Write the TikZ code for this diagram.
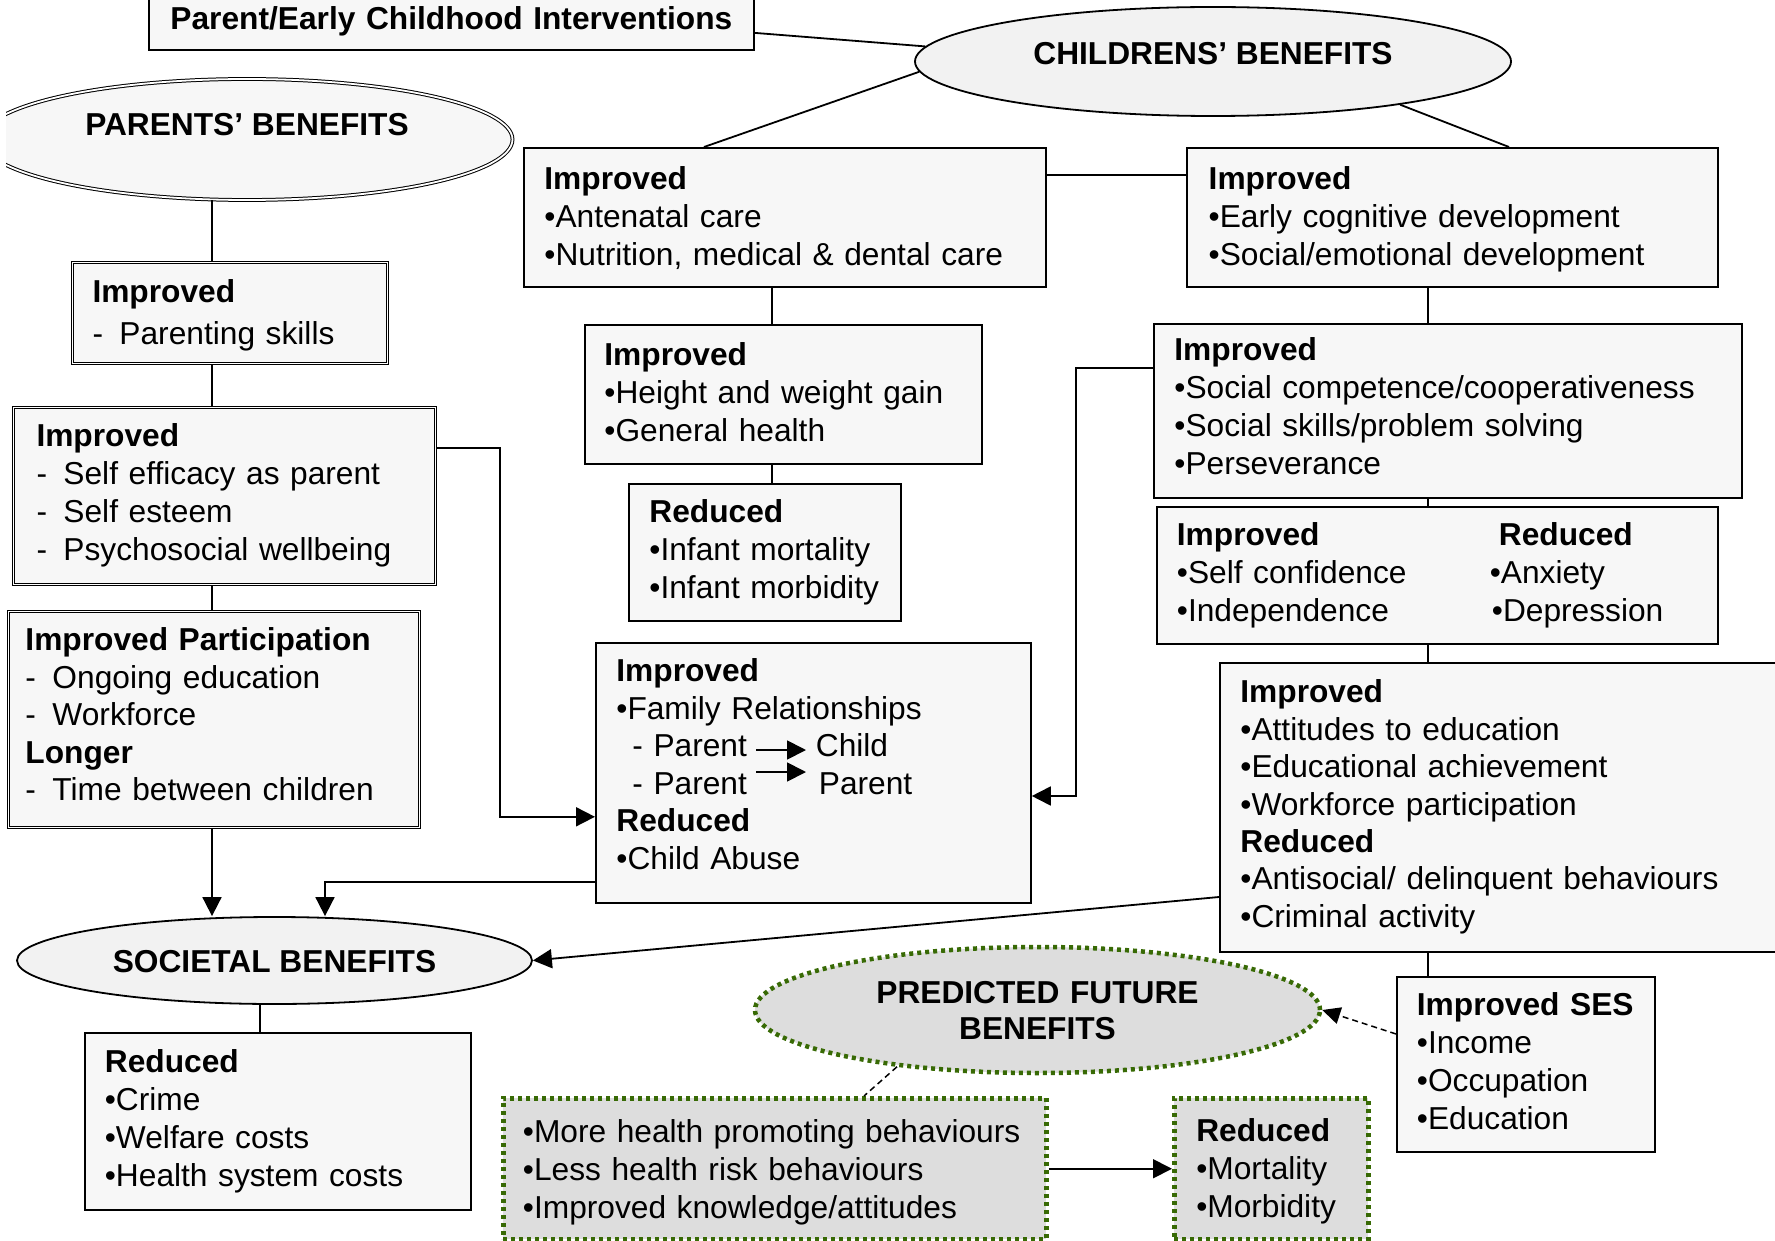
\documentclass[tikz,border=0pt]{standalone}
\usepackage{fontspec}
\setmainfont{Liberation Sans}
\usepackage{tikz}
\usetikzlibrary{
    arrows.meta,
    calc,
    shapes.geometric,
}
\definecolor{boxfill}{HTML}{F7F7F7}
\definecolor{ovalfill}{HTML}{F2F2F2}
\definecolor{futfill}{HTML}{DDDDDD}
\definecolor{futgreen}{HTML}{386A05}
\newcommand{\dsh}{\makebox[27pt][l]{-}}

\tikzstyle{card}=[draw,rectangle,line width=1.8pt,fill=boxfill,anchor=north west,align=left,inner sep=0pt,font=\fontsize{31.7}{38}\selectfont,execute at begin node={\leftskip=20.5pt\relax}]
\tikzstyle{dbl}=[line width=1pt,double,double distance=1.8pt]
\tikzstyle{dcard}=[card,dbl]
\tikzstyle{gcard}=[card,draw=futgreen,line width=4.5pt,dash pattern=on 4pt off 4pt,fill=futfill]
\tikzstyle{titlebox}=[draw,rectangle,line width=1.8pt,fill=boxfill,anchor=north west,align=center,inner sep=0pt,font=\bfseries\fontsize{31.7}{38}\selectfont]
\tikzstyle{oval}=[draw,ellipse,line width=1.8pt,fill=ovalfill,inner sep=0pt,align=center,text height=23pt,text depth=0pt,font=\bfseries\fontsize{31.7}{38}\selectfont]
\tikzstyle{futoval}=[oval,draw=futgreen,line width=4.5pt,dash pattern=on 4pt off 4pt,fill=futfill]
\tikzstyle{link}=[line width=1.8pt]
\tikzstyle{arr}=[link,-{Triangle[length=19pt,width=19pt]}]
\tikzstyle{dlink}=[line width=1.5pt,dash pattern=on 6pt off 4pt]
\tikzset{
    sz/.style n args={3}{text width=#1,text height=#2,text depth=#3},
    lpad/.style={execute at begin node={\leftskip=#1\relax}},
}

\begin{document}
\begin{tikzpicture}[x=1pt,y=-1pt]
\path[use as bounding box,fill=white] (0,0) rectangle (1775,1241);

% heads
\node[titlebox,text width=605pt,text height=40.5pt,text depth=20.5pt] (title) at (148,-12) {Parent/Early Childhood Interventions};
\node[oval,minimum width=596pt,minimum height=109pt,text depth=16pt] (children) at (1213,61.5) {CHILDRENS’ BENEFITS};
\begin{scope}
    \clip (6,0) rectangle (1775,1241);
    \node[oval,dbl,fill=boxfill,minimum width=531pt,minimum height=121pt,text depth=30pt] (parents) at (247,139.5) {PARENTS’ BENEFITS};
\end{scope}

% children, left column
\node[card,sz={522pt}{42pt}{97pt}] (antenatal) at (523,147) {\textbf{Improved}\\•Antenatal care\\•Nutrition, medical \& dental care};
\node[card,sz={397pt}{41pt}{98pt},lpad=19.5pt] (height) at (584,324) {\textbf{Improved}\\•Height and weight gain\\•General health};
\node[card,sz={272pt}{39pt}{98pt}] (infant) at (628,483) {\textbf{Reduced}\\•Infant mortality\\•Infant morbidity};
\node[card,sz={435pt}{38.5pt}{221.5pt},font=\fontsize{31.7}{37.6}\selectfont] (family) at (595,642) {\textbf{Improved}\\•Family Relationships\\\hspace*{16pt}- Parent\hspace{69pt}Child\\\hspace*{16pt}- Parent\hspace{72pt}Parent\\\textbf{Reduced}\\•Child Abuse};

% children, right column
\node[card,sz={531pt}{42pt}{97pt},lpad=21.8pt] (cognitive) at (1186,147) {\textbf{Improved}\\•Early cognitive development\\•Social/emotional development};
\node[card,sz={588pt}{37pt}{137pt}] (social) at (1153,323) {\textbf{Improved}\\•Social competence/cooperativeness\\•Social skills/problem solving\\•Perseverance};
\node[card,sz={561pt}{38.7pt}{98.3pt},lpad=20pt] (selfconf) at (1156,506) {\begin{tabular}[t]{@{}p{313pt}@{}l@{}}
    \textbf{Improved} & \hspace*{9pt}\textbf{Reduced}\\
    •Self confidence & •Anxiety\\
    •Independence & \hspace*{2pt}•Depression
\end{tabular}};
\node[card,sz={580pt}{40pt}{249pt},font=\fontsize{31.7}{37.4}\selectfont] (attitudes) at (1219,662) {\textbf{Improved}\\•Attitudes to education\\•Educational achievement\\•Workforce participation\\\textbf{Reduced}\\•Antisocial/ delinquent behaviours\\•Criminal activity};
\node[card,sz={258pt}{38.5pt}{136.5pt},lpad=20pt] (ses) at (1396,976) {\textbf{Improved SES}\\•Income\\•Occupation\\•Education};

% parents
\node[dcard,sz={315pt}{40pt}{61pt},lpad=20pt] (parenting) at (72,262) {\textbf{Improved}\\[4pt]\dsh Parenting skills};
\node[dcard,sz={422pt}{39pt}{138pt},lpad=23pt] (selfeff) at (13,407) {\textbf{Improved}\\\dsh Self efficacy as parent\\\dsh Self esteem\\\dsh Psychosocial wellbeing};
\node[dcard,sz={411pt}{39pt}{177pt},lpad=17pt,font=\fontsize{31.7}{37.6}\selectfont] (particip) at (8,611) {\textbf{Improved Participation}\\\dsh Ongoing education\\\dsh Workforce\\\textbf{Longer}\\\dsh Time between children};

% society and future
\node[oval,minimum width=515pt,minimum height=87pt] (societal) at (274.5,960.5) {SOCIETAL BENEFITS};
\node[card,sz={386pt}{40pt}{137pt},lpad=20pt] (crime) at (84,1032) {\textbf{Reduced}\\•Crime\\•Welfare costs\\•Health system costs};
\node[futoval,minimum width=565pt,minimum height=126pt,text width=380pt,text depth=36.5pt] (pred) at (1037.5,1010) {PREDICTED FUTURE\\[-1.5pt]BENEFITS};
\node[gcard,sz={543pt}{44pt}{97pt},lpad=19.7pt] (health) at (501,1096) {•More health promoting behaviours\\•Less health risk behaviours\\•Improved knowledge/attitudes};
\node[gcard,sz={194pt}{43pt}{98pt},lpad=22pt] (mortality) at (1172,1096) {\textbf{Reduced}\\•Mortality\\•Morbidity};

% spines
\coordinate (lefts) at (212,0);
\coordinate (midx) at (772,0);
\coordinate (spine) at (1428,0);
\coordinate (socx) at (260,0);

% connectors
\draw[link] ([yshift=-13.5pt]title.east) -- (children.177);
\draw[link] (children.182) -- ($(antenatal.north west)+(181,0)$);
\draw[link] (children.347) -- ($(cognitive.north west)+(323,0)$);
\draw[link] ($(antenatal.north east)+(0,28)$) -- ($(cognitive.north west)+(0,28)$);
\draw[link] (antenatal.south -| midx) -- (height.north -| midx);
\draw[link] (height.south -| midx) -- (infant.north -| midx);
\draw[link] (cognitive.south -| spine) -- (social.north -| spine);
\draw[link] (social.south -| spine) -- (selfconf.north -| spine);
\draw[link] (selfconf.south -| spine) -- (attitudes.north -| spine);
\draw[link] (attitudes.south -| spine) -- (ses.north -| spine);
\draw[link] (parents.south -| lefts) -- (parenting.north -| lefts);
\draw[link] (parenting.south -| lefts) -- (selfeff.north -| lefts);
\draw[link] (selfeff.south -| lefts) -- (particip.north -| lefts);
\draw[link] (societal.south -| socx) -- (crime.north -| socx);
\draw[arr] (particip.south -| lefts) -- (societal.north -| lefts);
\draw[arr] ($(family.south west)+(0,-22)$) -| ($(societal.north)+(50.5,0)$);
\draw[arr] ($(selfeff.north east)+(0,41)$) -- ++(64,0) |- ($(family.south west)+(0,-87)$);
\draw[arr] ($(social.north west)+(0,45)$) -- ++(-77,0) |- ($(family.north east)+(0,154)$);
\draw[arr] ($(attitudes.north west)+(0,235)$) -- (societal.east);
\draw[arr] ($(family.north west)+(161,108)$) -- ++(50,0);
\draw[arr] ($(family.north west)+(161,130)$) -- ++(50,0);
\draw[dlink,-{Triangle[length=18pt,width=17pt]}] ($(ses.north west)+(0,58)$) -- (pred.east);
\draw[dlink] (pred.202) -- ($(health.north west)+(363,0)$);
\draw[arr] (health.east) -- (mortality.west);
\end{tikzpicture}
\end{document}
